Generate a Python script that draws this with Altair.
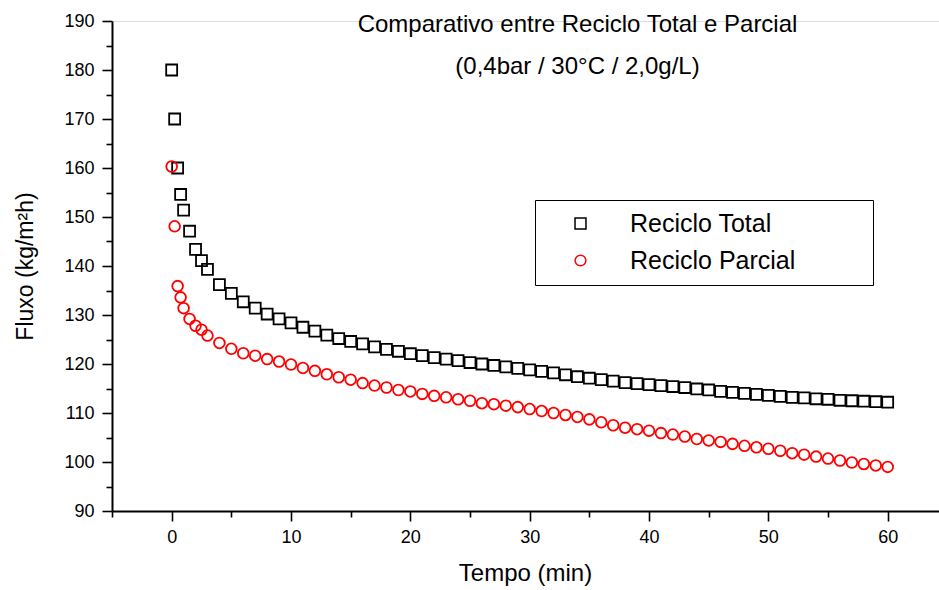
import altair as alt
import pandas as pd

# Time (min)
tempo = [0, 0.25, 0.5, 0.75, 1, 1.5, 2, 2.5, 3, 4, 5, 6, 7, 8, 9, 10,
         11, 12, 13, 14, 15, 16, 17, 18, 19, 20, 21, 22, 23, 24, 25, 26,
         27, 28, 29, 30, 31, 32, 33, 34, 35, 36, 37, 38, 39, 40, 41, 42,
         43, 44, 45, 46, 47, 48, 49, 50, 51, 52, 53, 54, 55, 56, 57, 58,
         59, 60]

# Flux (kg/m2h) - Reciclo Total
total = [180.0, 170.0, 160.0, 154.6, 151.4, 147.1, 143.4, 141.1, 139.3, 136.2,
         134.4, 132.7, 131.4, 130.2, 129.2, 128.4, 127.5, 126.7, 125.9, 125.2,
         124.6, 124.1, 123.5, 123.0, 122.6, 122.1, 121.7, 121.3, 121.0, 120.7,
         120.3, 120.0, 119.7, 119.4, 119.1, 118.8, 118.5, 118.2, 117.8, 117.4,
         117.1, 116.8, 116.5, 116.2, 116.0, 115.8, 115.6, 115.4, 115.2, 114.9,
         114.7, 114.4, 114.2, 114.0, 113.8, 113.6, 113.4, 113.2, 113.1, 112.9,
         112.8, 112.6, 112.5, 112.4, 112.3, 112.2]

# Flux (kg/m2h) - Reciclo Parcial
parcial = [160.3, 148.1, 135.9, 133.6, 131.4, 129.2, 127.8, 127.0, 125.8, 124.3,
           123.1, 122.2, 121.7, 121.0, 120.5, 119.9, 119.2, 118.6, 117.9, 117.3,
           116.8, 116.1, 115.6, 115.2, 114.7, 114.4, 113.9, 113.5, 113.2, 112.8,
           112.5, 112.0, 111.8, 111.5, 111.2, 110.8, 110.4, 110.0, 109.6, 109.2,
           108.7, 108.1, 107.5, 107.0, 106.7, 106.4, 105.9, 105.6, 105.2, 104.7,
           104.4, 104.1, 103.7, 103.3, 103.0, 102.7, 102.3, 101.8, 101.5, 101.1,
           100.7, 100.3, 99.9, 99.6, 99.3, 99.0]

series = ["Reciclo Total", "Reciclo Parcial"]
x_major = [0, 10, 20, 30, 40, 50, 60]
x_minor = [-5, 5, 15, 25, 35, 45, 55]
y_major = [90, 100, 110, 120, 130, 140, 150, 160, 170, 180, 190]
y_minor = [95, 105, 115, 125, 135, 145, 155, 165, 175, 185]

n = len(tempo)
df = pd.DataFrame({
    "Tempo": tempo + tempo,
    "Fluxo": total + parcial,
    "Serie": [series[0]] * n + [series[1]] * n,
})

FONT = "Liberation Sans"

xscale = alt.Scale(domain=[-5, 64.3], nice=False, zero=False)
yscale = alt.Scale(domain=[90, 190], nice=False, zero=False)

points = alt.Chart(df).mark_point(filled=False, strokeWidth=1.8, opacity=1).encode(
    x=alt.X("Tempo:Q", scale=xscale,
            axis=alt.Axis(values=x_major, tickSize=10, tickWidth=1.6, labelFontSize=18,
                          labelPadding=7, labelFont=FONT, labelColor="black",
                          domainColor="black", domainWidth=2, tickColor="black",
                          grid=False, title="Tempo (min)", titleFont=FONT,
                          titleFontSize=24, titleFontWeight="normal", titleColor="black",
                          titleX=413, titleY=62, titleBaseline="middle",
                          titleAlign="center", orient="bottom")),
    y=alt.Y("Fluxo:Q", scale=yscale,
            axis=alt.Axis(values=y_major, tickSize=10, tickWidth=1.6, labelFontSize=18,
                          labelPadding=8, labelFont=FONT, labelColor="black",
                          domainColor="black", domainWidth=2, tickColor="black",
                          grid=False, title="Fluxo (kg/m²h)", titleFont=FONT,
                          titleFontSize=23, titleFontWeight="normal", titleColor="black",
                          titleX=-87, titleY=245, titleAngle=270, titleBaseline="middle",
                          titleAlign="center", orient="left")),
    shape=alt.Shape("Serie:N", scale=alt.Scale(domain=series, range=["square", "circle"]),
                    legend=None),
    color=alt.Color("Serie:N", scale=alt.Scale(domain=series, range=["black", "red"]),
                    legend=alt.Legend(orient="none", legendX=423, legendY=179, title=" ",
                                      titleOrient="right", titlePadding=67,
                                      strokeColor="black", padding=11, symbolOffset=22,
                                      labelOffset=37, rowPadding=11, labelFontSize=25,
                                      labelLimit=400,
                                      labelFont=FONT, labelColor="black", symbolSize=70,
                                      symbolStrokeWidth=1.5, symbolType="square")),
    size=alt.Size("Serie:N", scale=alt.Scale(domain=series, range=[120, 115]), legend=None),
)

minor = alt.Chart(df).mark_point(opacity=0).encode(
    x=alt.X("Tempo:Q", scale=xscale,
            axis=alt.Axis(values=x_minor, tickSize=6, tickWidth=1.6, labels=False,
                          domain=False, grid=False, title=None, tickColor="black",
                          orient="bottom")),
    y=alt.Y("Fluxo:Q", scale=yscale,
            axis=alt.Axis(values=y_minor, tickSize=6, tickWidth=1.6, labels=False,
                          domain=False, grid=False, title=None, tickColor="black",
                          orient="left")),
)

chart = alt.layer(points, minor).resolve_axis(x="independent", y="independent").properties(
    width=827,
    height=490,
    padding={"left": 112, "top": 21, "right": 0, "bottom": 79},
    autosize=alt.AutoSizeParams(type="none"),
    title=alt.Title(
        ["Comparativo entre Reciclo Total e Parcial", "(0,4bar / 30°C / 2,0g/L)"],
        anchor="middle", orient="top", offset=0, baseline="middle", dx=52, dy=79,
        fontSize=24, font=FONT, fontWeight="normal", color="black", lineHeight=42,
        frame="group"),
).configure_view(stroke=None).configure(background="white")

chart.save("out.html", embed_options={"renderer": "svg", "actions": False})
